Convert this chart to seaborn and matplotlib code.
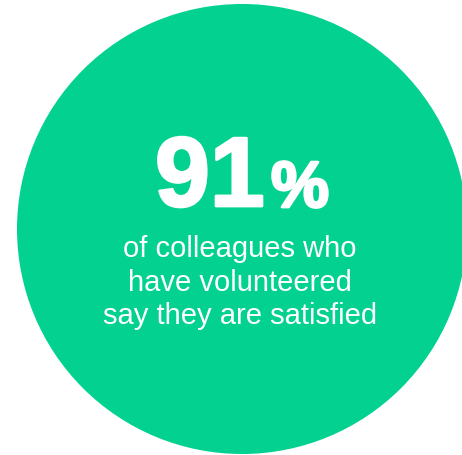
import matplotlib
matplotlib.use("Agg")
import matplotlib.pyplot as plt
from matplotlib.patches import Circle
import matplotlib.patheffects as pe
import seaborn as sns

# data
value = [91]
unit = ["%"]
caption_lines = ["of colleagues who", "have volunteered", "say they are satisfied"]

sns.set_theme(style="white")
plt.rcParams['font.family'] = ['Liberation Sans', 'DejaVu Sans']

fig = plt.figure(figsize=(4.62, 4.56), dpi=100)
ax = fig.add_axes([0, 0, 1, 1])
ax.set_xlim(0, 462)
ax.set_ylim(456, 0)
ax.set_aspect('equal')
ax.axis('off')

green = "#02D190"
ax.add_patch(Circle((242, 230), 225, color=green, lw=0))

heavy = [pe.withStroke(linewidth=2.0, foreground='white')]
ax.text(155, 207, f"{value[0]}", fontsize=71, fontweight='bold', color='white',
        ha='left', va='baseline', path_effects=heavy)
ax.text(271, 208, unit[0], fontsize=47, fontweight='bold', color='white',
        ha='left', va='baseline', path_effects=heavy)

baselines = [257, 291, 324]
for line, yb in zip(caption_lines, baselines):
    ax.text(240, yb, line, fontsize=21, color='white', ha='center', va='baseline')

fig.savefig("out.png", dpi=100)
